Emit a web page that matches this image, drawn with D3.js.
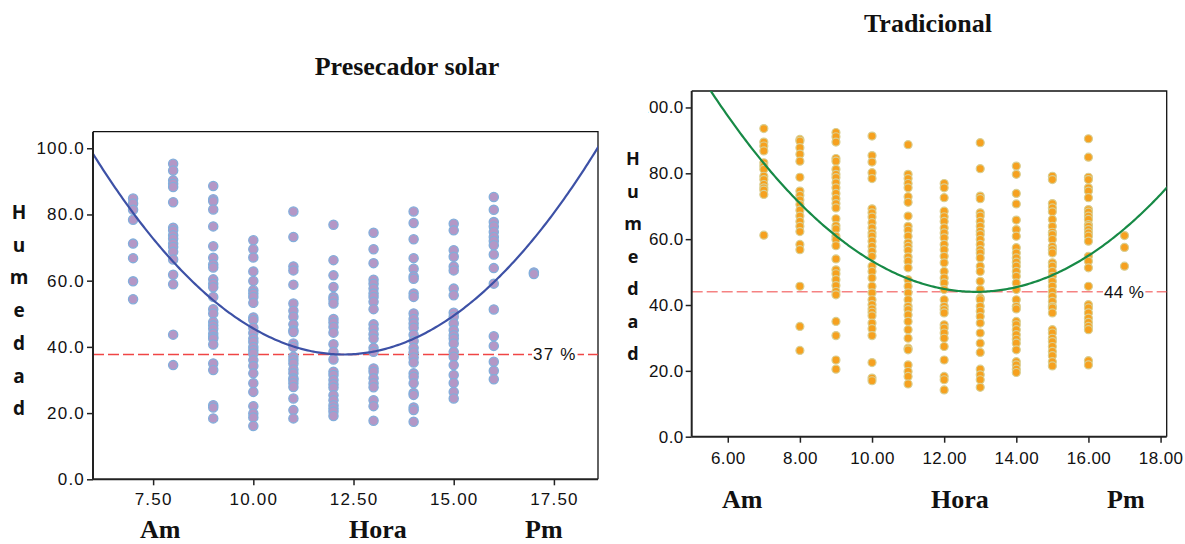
<!DOCTYPE html>
<html>
<head>
<meta charset="utf-8">
<script src="https://cdnjs.cloudflare.com/ajax/libs/d3/7.8.5/d3.min.js"></script>
<style>
	body { margin: 0; background: #fff; }
	svg { display: block; }
	.tick text { font-family: "Liberation Sans", Arial, sans-serif; font-size: 17px; fill: #111; }
	.title, .word { font-family: "Liberation Serif", "Times New Roman", serif; font-weight: bold; fill: #111; }
	.ylab { font-family: "Open Sans", "DejaVu Sans", sans-serif; font-weight: bold; fill: #111; }
	.pct { font-family: "Liberation Sans", Arial, sans-serif; font-size: 17px; fill: #111; }
</style>
</head>
<body>
<svg width="1185" height="544"></svg>
<script>
// hours of measurement (x categories)
var hours = [7, 8, 9, 10, 11, 12, 13, 14, 15, 16, 17];

// humidity readings per hour, solar pre-dryer
var solarValues = [
	[84.8, 83.3, 81.4, 78.4, 71.2, 66.8, 59.8, 54.4],
	[95.3, 93.3, 90.3, 89.3, 88.3, 83.7, 76, 75.2, 73.7, 72.7, 71.2, 70.2, 68.7, 66.4, 61.8, 58.9, 43.7, 34.5],
	[88.6, 84.6, 84, 81.5, 76.4, 70.4, 66.9, 64.9, 64, 60.4, 59.1, 58, 55.1, 51.4, 50.1, 47.5, 46.5, 45.5, 44, 43, 42.5, 40.7, 35, 33, 22.4, 21.7, 18.4],
	[72.2, 69.5, 67, 62.8, 59.9, 57.1, 56.1, 55.1, 53.3, 48.9, 48.1, 45.8, 44.2, 42.5, 41.5, 40, 39, 38, 36, 34.2, 32, 29, 26.4, 22.1, 19.9, 18.7, 16.1],
	[80.9, 73.2, 64.3, 63.1, 58.8, 53.1, 50.9, 49.1, 46.8, 45, 44.5, 41, 40, 37, 36, 35, 33.2, 32, 30.5, 30, 29, 27.9, 24.4, 20.9, 18.4],
	[76.9, 66.2, 61.6, 58.1, 55.1, 54.3, 53.1, 48.4, 47.4, 46, 44.3, 40.8, 38.5, 36.2, 32.5, 31.5, 30, 28.7, 27.7, 25.4, 23.9, 22.4, 21.4, 20.4, 19.1],
	[74.5, 69.5, 65.3, 60.3, 59.1, 57.6, 56.1, 55.1, 53.6, 51.4, 46.8, 45.5, 43.8, 42.5, 39.7, 38.5, 33.5, 32.5, 30.5, 29, 27.8, 23.9, 22.1, 17.7],
	[80.9, 77.4, 72.5, 66.8, 63.6, 61.3, 60.6, 56.1, 55.1, 50.1, 48.4, 47.1, 45.8, 43.7, 41.8, 39.7, 38.3, 36.8, 35.3, 32, 31, 29, 26.1, 25.5, 21.7, 20.9, 17.4],
	[77.2, 75.2, 69.2, 67.2, 64.3, 63.1, 57.6, 55.6, 50.3, 49.1, 47.1, 45, 43.5, 42.5, 41, 38.5, 37, 34.5, 31.5, 29.1, 26.4, 24.4],
	[85.3, 81.4, 77.7, 76.4, 74.7, 73.2, 72, 70.7, 67.9, 63.8, 59.1, 51.3, 43.2, 40.3, 35.5, 32.8, 30.2],
	[62.5, 62]
];

// humidity readings per hour, traditional drying
var tradValues = [
	[93.6, 89.5, 88.3, 86.8, 83.2, 82.2, 81.2, 79.1, 78.1, 76.6, 75.6, 74.9, 73.6, 61.2],
	[90.3, 89.8, 87.8, 85.8, 83.7, 78.8, 74.6, 73.3, 71.9, 70.5, 68.8, 67, 65.4, 63.9, 62.3, 58.4, 56.8, 45.7, 33.5, 26.2],
	[92.4, 91.1, 89.5, 84.5, 83.7, 81.2, 79.7, 78.7, 77.1, 75.6, 73.9, 72.3, 70.8, 69.5, 66.2, 64.1, 63.1, 60.9, 59.9, 58, 54, 50.7, 49.5, 47.7, 45.9, 44.1, 43.1, 35, 30.7, 23.3, 20.5],
	[91.3, 85.4, 83.4, 80.2, 78.4, 69.2, 68, 66.7, 65, 63.4, 61.9, 60.9, 59.4, 57.8, 56.3, 54.8, 51.8, 50.2, 48.2, 45.7, 43.7, 41.6, 40.1, 38.8, 37.8, 36.7, 34.5, 32.8, 30.7, 22.5, 17.8, 17],
	[88.7, 79.7, 78.4, 76.9, 75.6, 72.9, 71.2, 67, 63.9, 62.7, 60.9, 58.9, 57.8, 56.6, 54.6, 53.3, 51.3, 47.7, 45.7, 43.7, 41.6, 39.6, 38.6, 37, 35, 32.5, 29.9, 26.9, 26.4, 21.8, 19.8, 18.3, 16],
	[76.9, 75.6, 72.6, 68.5, 66.8, 65.4, 63.4, 61.9, 60.4, 58.4, 56.8, 54.8, 52.8, 50.2, 48.2, 46.7, 44.7, 41.6, 39.6, 38.6, 37.6, 34, 33, 31.5, 29.9, 27.4, 23.3, 18.3, 17.3, 14.2],
	[89.3, 81.4, 73.1, 72.3, 68, 67, 65.4, 63.9, 62.4, 61.4, 59.9, 58.4, 56.8, 55.8, 54.3, 51.8, 50.2, 47.2, 44.7, 42.1, 41.6, 39.6, 38.1, 36.5, 34.5, 31.5, 28.4, 25.6, 20.5, 18.8, 17.3, 15],
	[82.2, 79.7, 73.9, 70.7, 65.8, 62.9, 60.9, 57.4, 55.8, 54.3, 53, 51.8, 50.2, 48.7, 46.7, 44.7, 41.6, 39.6, 38.8, 35, 34, 32.5, 31, 29.6, 28.4, 26.4, 22.8, 21.8, 20.5, 19.5],
	[79.1, 78.1, 70.8, 69.5, 68.3, 66, 63.9, 62.1, 61.4, 59.9, 57.8, 56.8, 55.8, 52.8, 51.8, 50.2, 48.7, 47.2, 45.7, 44.1, 42.6, 41.1, 39.6, 39.1, 37.6, 32.5, 31.5, 29.9, 28.9, 27.4, 25.9, 24.6, 22.8, 21.5],
	[90.5, 84.9, 78.8, 78.1, 75.6, 74.6, 72.6, 69, 68.2, 67, 66, 64.4, 63.9, 62.9, 61.9, 60.9, 59.4, 54.8, 53.3, 51.3, 45.7, 40.1, 39.1, 37.6, 36, 34.7, 33.5, 32.5, 23.1, 21.8],
	[61.1, 57.5, 51.8]
];

// quadratic fit: y = a*(x-h)^2 + k
var solarFit = [1.552, 12.25, 37.7];
var tradFit = [1.129, 12.88, 44];

// reference line values and labels
var solarRef = 37.7, solarRefLabel = "37 %";
var tradRef = 44, tradRefLabel = "44 %";

var yTicks = [0, 20, 40, 60, 80, 100];
var solarXTicks = [7.5, 10, 12.5, 15, 17.5];
var tradXTicks = [6, 8, 10, 12, 14, 16, 18];

var svg = d3.select("svg");

function panel(o) {
	var x = d3.scaleLinear().domain(o.xDomain).range([o.left, o.right]);
	var y = d3.scaleLinear().domain([0, 105]).range([o.bottom, o.top]);
	var g = svg.append("g");

	// clip for curve
	var cid = "clip" + o.id;
	svg.append("clipPath").attr("id", cid).append("rect")
		.attr("x", o.left).attr("y", o.top)
		.attr("width", o.right - o.left).attr("height", o.bottom - o.top);

	// frame top and right
	g.append("path")
		.attr("d", "M" + o.left + "," + o.top + "H" + o.right + "V" + o.bottom)
		.attr("fill", "none").attr("stroke", "#111").attr("stroke-width", 1.3);

	// reference line
	g.append("line")
		.attr("x1", o.left).attr("x2", o.right)
		.attr("y1", y(o.ref)).attr("y2", y(o.ref))
		.attr("stroke", "#f04545").attr("stroke-width", o.refWidth)
		.attr("stroke-dasharray", "11,4");

	// points
	var pts = [];
	o.values.forEach(function(col, i) {
		col.forEach(function(v) { pts.push({h: hours[i], v: v}); });
	});
	g.selectAll(".pt").data(pts).enter().append("circle")
		.attr("cx", function(d) { return x(d.h); })
		.attr("cy", function(d) { return y(d.v); })
		.attr("r", o.r)
		.attr("fill", o.fill)
		.attr("stroke", o.stroke)
		.attr("stroke-width", o.sw);

	// fit curve
	var xs = d3.range(o.xDomain[0], o.xDomain[1] + 0.05, 0.05);
	var fit = o.fit;
	g.append("path")
		.datum(xs)
		.attr("clip-path", "url(#" + cid + ")")
		.attr("fill", "none")
		.attr("stroke", o.curve)
		.attr("stroke-width", 2.2)
		.attr("d", d3.line()
			.x(function(d) { return x(d); })
			.y(function(d) { return y(fit[0] * (d - fit[1]) * (d - fit[1]) + fit[2]); }));

	// ref label
	var lbl = g.append("text").attr("class", "pct")
		.attr("x", o.lblX).attr("y", y(o.ref) + 6)
		.style("letter-spacing", o.ls + "px")
		.text(o.refLabel);
	var bb = lbl.node().getBBox();
	g.insert("rect", ".pct")
		.attr("x", bb.x - 1).attr("y", bb.y + 2)
		.attr("width", bb.width + 2).attr("height", bb.height - 4)
		.attr("fill", "#fff");

	// axes
	var ya = g.append("g")
		.attr("transform", "translate(" + o.left + ",0)")
		.call(d3.axisLeft(y).tickValues(yTicks).tickFormat(d3.format(".1f")).tickSizeOuter(0).tickSizeInner(6).tickPadding(2));
	var xa = g.append("g")
		.attr("transform", "translate(0," + o.bottom + ")")
		.call(d3.axisBottom(x).tickValues(o.xTicks).tickFormat(d3.format(".2f")).tickSizeOuter(0).tickSizeInner(6).tickPadding(o.xPad));
	[ya, xa].forEach(function(a) {
		a.select(".domain").attr("stroke", "#222").attr("stroke-width", 2);
		a.selectAll(".tick line").attr("stroke", "#222").attr("stroke-width", 1.5);
		a.selectAll(".tick text").style("letter-spacing", o.ls + "px");
	});
	ya.select(".domain").attr("d", "M0," + o.bottom + "V" + o.top);
	xa.select(".domain").attr("d", "M" + o.left + ",0H" + o.right);
	if (o.labelClip) {
		// the picture is cropped on the left of this panel's tick labels
		svg.append("clipPath").attr("id", "lc" + o.id).append("rect")
			.attr("x", o.labelClip - o.left).attr("y", -50)
			.attr("width", 600).attr("height", 700);
		ya.attr("clip-path", "url(#lc" + o.id + ")");
	}

	// y label stacked
	"Humedad".split("").forEach(function(c, i) {
		g.append("text").attr("class", "ylab")
			.attr("x", o.yLabX).attr("y", o.yLabY + i * o.yLabStep)
			.attr("text-anchor", "middle")
			.style("font-size", o.yLabSize + "px")
			.text(c);
	});

	// title
	g.append("text").attr("class", "title")
		.attr("x", o.titleX).attr("y", o.titleY)
		.attr("text-anchor", "middle")
		.style("font-size", o.titleSize + "px")
		.text(o.title);

	// bottom words
	[["Am", o.words[0]], ["Hora", o.words[1]], ["Pm", o.words[2]]].forEach(function(w) {
		g.append("text").attr("class", "word")
			.attr("x", w[1]).attr("y", o.wordY)
			.style("font-size", "26px")
			.text(w[0]);
	});
}

panel({
	id: "a", values: solarValues, fit: solarFit, ref: solarRef, refLabel: solarRefLabel,
	xDomain: [6, 18.6], xTicks: solarXTicks,
	left: 93, right: 598, top: 131.7, bottom: 479.3,
	r: 4.6, fill: "#b497c6", stroke: "#82aedb", sw: 1.3, curve: "#3d51a6",
	refWidth: 1.3, lblX: 533, ls: 1.2, xPad: 8,
	yLabX: 19, yLabY: 219, yLabStep: 32.7, yLabSize: 19,
	title: "Presecador solar", titleX: 407, titleY: 75, titleSize: 26,
	words: [140, 349, 525], wordY: 538
});

panel({
	id: "b", values: tradValues, fit: tradFit, ref: tradRef, refLabel: tradRefLabel,
	xDomain: [5, 18.17], xTicks: tradXTicks,
	left: 691.7, right: 1166.7, top: 91, bottom: 436.7,
	r: 4, fill: "#f6a11f", stroke: "#d9cf92", sw: 1.2, curve: "#178a46",
	refWidth: 1, lblX: 1104, ls: 0.4, xPad: 9,
	yLabX: 633, yLabY: 165, yLabStep: 32.5, yLabSize: 18,
	title: "Tradicional", titleX: 928, titleY: 32, titleSize: 26,
	words: [722, 931, 1107], wordY: 508, labelClip: 648
});
</script>
</body>
</html>
